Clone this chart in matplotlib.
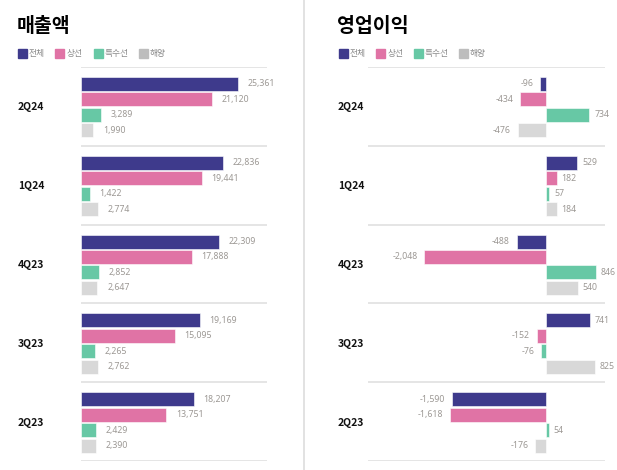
import matplotlib
matplotlib.use("Agg")
import matplotlib.pyplot as plt
from matplotlib.patches import Rectangle
from matplotlib.lines import Line2D

plt.rcParams['font.family'] = ['Noto Sans CJK KR', 'DejaVu Sans']

quarters = ["2Q24", "1Q24", "4Q23", "3Q23", "2Q23"]
series = ["전체", "상선", "특수선", "해양"]
colors = ["#3e3a8c", "#e073a5", "#67c8a5", "#d8d8d8"]
legend_colors = ["#3e3a8c", "#e073a5", "#67c8a5", "#bdbdbd"]

revenue = [
    [25361, 21120, 3289, 1990],
    [22836, 19441, 1422, 2774],
    [22309, 17888, 2852, 2647],
    [19169, 15095, 2265, 2762],
    [18207, 13751, 2429, 2390],
]
op_profit = [
    [-96, -434, 734, -476],
    [529, 182, 57, 184],
    [-488, -2048, 846, 540],
    [741, -152, -76, 825],
    [-1590, -1618, 54, -176],
]

W, H = 617, 470
fig = plt.figure(figsize=(W / 100, H / 100), dpi=100)

def fx(px):
    return px / W

def fy(py):
    return 1 - py / H

label_color = "#9c9894"
line_color = "#e0e0e0"
offsets = [0.215, 0.411, 0.607, 0.804]
bh = 0.177

def draw_panel(x0, x1, data, xlim, title, title_x, legend_xs, text_xs, pos_off, neg_off):
    ax = fig.add_axes([fx(x0), fy(461), fx(x1) - fx(x0), fy(67) - fy(461)])
    ax.set_xlim(*xlim)
    ax.set_ylim(len(quarters), 0)
    ax.axis("off")
    for gi, q in enumerate(quarters):
        for si in range(len(series)):
            v = data[gi][si]
            yc = gi + offsets[si]
            ax.barh(yc, v, height=bh, left=0, color=colors[si],
                    edgecolor="white", linewidth=0.4)
            if v >= 0:
                ax.annotate(f"{v:,}", (v, yc), xytext=(pos_off, 0), textcoords="offset points",
                            ha="left", va="center", fontsize=6.3, color=label_color,
                            family=["Noto Sans", "DejaVu Sans"], annotation_clip=False)
            else:
                ax.annotate(f"{v:,}", (v, yc), xytext=(-neg_off, 0), textcoords="offset points",
                            ha="right", va="center", fontsize=6.3, color=label_color,
                            family=["Noto Sans", "DejaVu Sans"], annotation_clip=False)
    for b in range(len(quarters) + 1):
        ax.axhline(b, color=line_color, linewidth=1.2, zorder=0)
    for gi, q in enumerate(quarters):
        fig.text(fx(title_x + 1), fy(67 + 79 * gi + 40), q, fontsize=7.5, fontweight="bold",
                 ha="left", va="center", color="#111111")
    fig.text(fx(title_x), fy(26), title, fontsize=14, fontweight="heavy",
             ha="left", va="center", color="#000000")
    for lx, tx, c, s in zip(legend_xs, text_xs, legend_colors, series):
        fig.patches.append(Rectangle((fx(lx), fy(58)), fx(9), 9 / H, color=c,
                                     transform=fig.transFigure, figure=fig))
        fig.text(fx(tx), fy(53.5), s, fontsize=6.3, ha="left", va="center", color="#8a8a8a")
    return ax

draw_panel(81, 267, revenue, (0, 30000), "매출액", 17,
           [18, 55, 94, 139], [29, 67, 105, 150], 7, 5)
draw_panel(368, 605, op_profit, (-3000, 1000), "영업이익", 337,
           [339, 376, 414, 459], [350, 388, 425, 470], 3.5, 5)

fig.lines.append(Line2D([fx(304), fx(304)], [0, 1], color="#dddddd", linewidth=1.2,
                        transform=fig.transFigure))

fig.savefig("out.png", dpi=100)
